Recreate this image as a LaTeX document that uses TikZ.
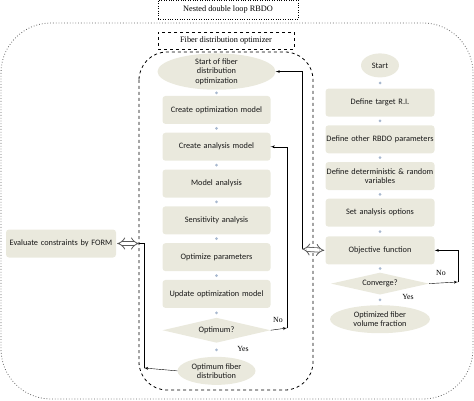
\documentclass[tikz,border=0pt]{standalone}
\usepackage{fontspec}
\setmainfont{Liberation Serif}
\newfontfamily\boxfont{Carlito}
\usetikzlibrary{shapes,arrows,arrows.meta}
\definecolor{boxfill}{RGB}{234,233,221}
\definecolor{dotblue}{RGB}{168,184,206}
\definecolor{boxtext}{RGB}{25,25,25}

\begin{document}
\begin{tikzpicture}[x=1pt,y=-1pt,
    block_center/.style ={rectangle, rounded corners=3pt, draw=none, fill=boxfill, text width=104pt, text centered,
      minimum height=28pt, inner sep=2pt, text=boxtext, font=\boxfont\fontsize{8.3}{9.3}\selectfont},
    block_wide/.style ={block_center, text width=108pt, inner sep=0.5pt},
    block_start/.style ={ellipse, draw=none, fill=boxfill, align=center, inner sep=0pt,
      text=boxtext, font=\boxfont\fontsize{8.3}{9.3}\selectfont},
    block_decision/.style ={diamond, aspect=4.3, draw=none, fill=boxfill, inner sep=0pt,
      text=boxtext, font=\boxfont\fontsize{8.3}{9.3}\selectfont},
    block_title/.style ={rectangle, draw=black, fill=white, inner sep=0pt, font=\fontsize{8.3}{10}\selectfont},
    block_label/.style ={inner sep=0pt, font=\fontsize{7.8}{9}\selectfont},
    link_dot/.style ={circle, fill=dotblue, inner sep=0pt, minimum size=3pt},
    line/.style ={draw, thin, -latex', shorten >=0pt},
    exchange/.style ={draw=gray!70!black, line width=0.8pt, double, double distance=3.4pt,
      {Implies[length=5pt]}-{Implies[length=5pt]}}]
    \useasboundingbox (0,0) rectangle (474,401);
    % outer loop and inner loop frames
    \draw[dotted, gray!80!black, thick, rounded corners=50pt] (1,23) rectangle (473,399);
    \draw[dashed, thick, rounded corners=28pt] (139,52) rectangle (313,390);
    \node [block_title, dotted, minimum width=140pt, minimum height=19pt] (nested) at (228,9.5) {Nested double loop RBDO};
    \node [block_title, dashed, thick, minimum width=136pt, minimum height=17pt] (fibtitle) at (226,40.5) {Fiber distribution optimizer};
    % inner loop - fiber distribution optimizer
    \matrix (fibloop) [row sep=8.6pt, anchor=north, inner sep=0pt] at (216.5,53) {
		\node [block_start, minimum width=118pt, minimum height=36pt] (fibstart) {Start of fiber\\distribution\\optimization};\\[-2.6pt]
		\node [block_center] (optmodel) {Create optimization model};\\
		\node [block_center] (anamodel) {Create analysis model};\\
		\node [block_center] (modelana) {Model analysis};\\
		\node [block_center] (sensana) {Sensitivity analysis};\\
		\node [block_center] (optparam) {Optimize parameters};\\
		\node [block_center] (updmodel) {Update optimization model};\\[1pt]
		\node [block_decision, minimum width=108pt, minimum height=25pt] (optimum) {Optimum?};\\[5.4pt]
		\node [block_start, minimum width=78pt, minimum height=28pt] (optfib) {Optimum fiber\\distribution};\\
	};% end matrix
    % outer loop - RBDO
    \matrix (rbdoloop) [row sep=8.5pt, anchor=north, inner sep=0pt] at (380,53) {
		\node [block_start, minimum width=38pt, minimum height=24pt] (rbdostart) {Start};\\[2.5pt]
		\node [block_wide] (target) {Define target R.I.};\\
		\node [block_wide] (rbdoparam) {Define other RBDO parameters};\\
		\node [block_wide] (variables) {Define deterministic \& random\\variables};\\
		\node [block_wide] (anaopt) {Set analysis options};\\[1pt]
		\node [block_wide] (objfun) {Objective function};\\[-0.5pt]
		\node [block_decision, minimum width=98pt, minimum height=22pt] (converge) {Converge?};\\[2pt]
		\node [block_start, minimum width=100pt, minimum height=28pt] (optvol) {Optimized fiber\\volume fraction};\\
	};% end matrix
    \node [block_center, text width=106pt] (evalform) at (61,243.5) {Evaluate constraints by FORM};
    % small dots between the steps
    \foreach \a/\b in {fibstart/optmodel, optmodel/anamodel, anamodel/modelana, modelana/sensana,
      sensana/optparam, optparam/updmodel, updmodel/optimum, optimum/optfib,
      rbdostart/target, target/rbdoparam, rbdoparam/variables, variables/anaopt,
      anaopt/objfun, objfun/converge, converge/optvol}
      \path (\a.south) -- (\b.north) node[midway, link_dot] {};
    % loop back paths
    \coordinate (fib_no) at (287,328);
    \coordinate (rbdo_no) at (458,282);
    \coordinate (fib_left) at (139,243.5);
    \coordinate (fib_right) at (302,249);
    \coordinate (fib_out) at (144,368);
    \begin{scope}[every path/.style=line]
		\path (optimum.east) -- (fib_no);
		\path (fib_no) |- (anamodel.east);
		\path (converge.east) -- (rbdo_no);
		\path (rbdo_no) |- (objfun.east);
		\path (optfib.west) -- (fib_out);
		\path (fib_right) |- (fibstart.east);
    \end{scope}
    \draw (fib_left) -| (fib_out);
    \draw[exchange] ([xshift=1pt]evalform.east) -- (fib_left);
    \draw[exchange] (fib_right) -- ([xshift=-1pt]objfun.west);
    % labels
    \node [block_label] (fibno_lbl) at (278,320) {No};
    \node [block_label] (fibyes_lbl) at (243,349) {Yes};
    \node [block_label] (rbdono_lbl) at (441,273) {No};
    \node [block_label] (rbdoyes_lbl) at (408,297) {Yes};
  \end{tikzpicture}
\end{document}
